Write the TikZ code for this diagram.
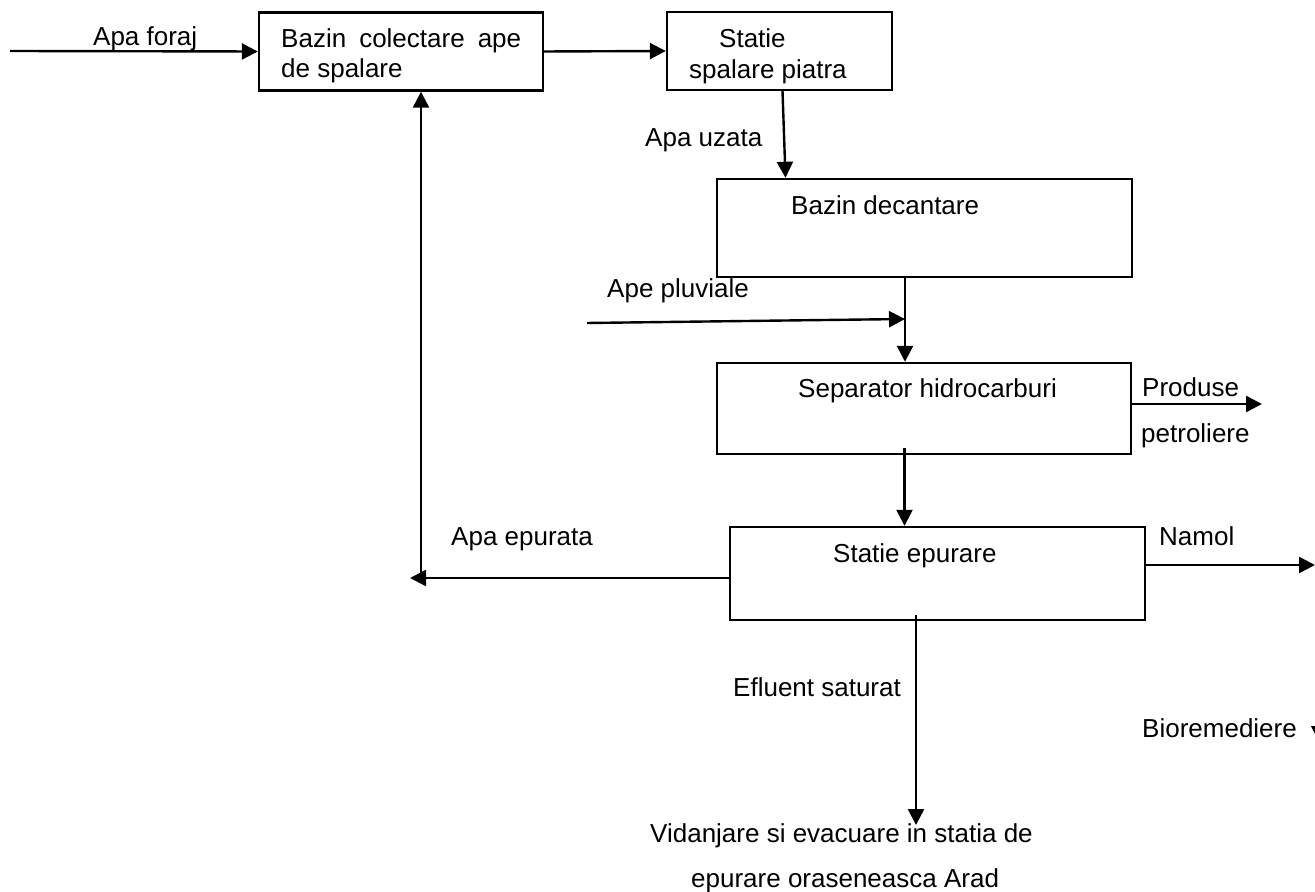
\documentclass[tikz,border=0pt]{standalone}
\usepackage{fontspec}
\setmainfont{Liberation Sans}
\usetikzlibrary{arrows.meta}

\tikzset{
  box/.style={draw, rectangle, inner sep=0pt},
  lbl/.style={anchor=base west, inner sep=0pt, font=\fontsize{13pt}{15pt}\selectfont},
}

\begin{document}
\begin{tikzpicture}[->, >={Triangle[length=8pt,width=8pt]}, line width=1.2pt, x=0.5pt, y=-0.5pt]

    \useasboundingbox (0,0) rectangle (1315,892);

    % Boxes

    \node[box, minimum width=142pt, minimum height=39pt]    (colect)    at (401,51.5)   {}; %
    \node[box, minimum width=112.5pt, minimum height=39pt]  (spalare)   at (779.5,51)   {}; %
    \node[box, minimum width=207.5pt, minimum height=49pt]  (decant)    at (924.5,228)  {}; %
    \node[box, minimum width=207pt, minimum height=45.5pt]  (separator) at (924,408.5)  {}; %
    \node[box, minimum width=207.5pt, minimum height=46.5pt] (epurare)  at (937.5,573.5) {}; %

    % Texts in boxes
    \node[lbl] (colect1) at (280,48) {\makebox[120pt][s]{Bazin colectare ape}};
    \node[lbl] (colect2) at (280,78) {de spalare};
    \node[lbl] (spalare1) at (718,48) {Statie};
    \node[lbl] (spalare2) at (688,79) {spalare piatra};
    \node[lbl] (decant1) at (790,215) {Bazin decantare};
    \node[lbl] (separator1) at (797,398) {Separator hidrocarburi};
    \node[lbl] (epurare1) at (832,562) {Statie epurare};

    % Flow labels
    \node[lbl] (foraj) at (92,46) {Apa foraj};
    \node[lbl] (uzata) at (644,147) {Apa uzata};
    \node[lbl] (pluv) at (606,298) {Ape pluviale};
    \node[lbl] (produse) at (1141,397) {Produse};
    \node[lbl] (petrol) at (1140,443) {petroliere};
    \node[lbl] (epurata) at (450,545) {Apa epurata};
    \node[lbl] (namol) at (1158,545) {Namol};
    \node[lbl] (efluent) at (732,696) {Efluent saturat};
    \node[lbl] (biorem) at (1141,737) {Bioremediere};
    \node[lbl] (vidanj1) at (649,842) {Vidanjare si evacuare in statia de};
    \node[lbl] (vidanj2) at (690,887) {epurare oraseneasca Arad};

    % Free ends
    \coordinate (forajin) at (10,51);
    \coordinate (pluvin) at (587,323);
    \coordinate (pluvjoin) at (905,319);
    \coordinate (produseout) at (1262,404);
    \coordinate (namolout) at (1315,565);
    \coordinate (epurout) at (410,578);
    \coordinate (retbot) at (421,578);
    \coordinate (vidtip) at (916,825);

    % Connectors
    \draw (forajin) -- (colect.west);
    \draw (colect.east) -- (spalare.west);
    \draw ([xshift=1.5pt]spalare.south) -- ([xshift=3pt]spalare.south |- decant.north);
    \draw ([xshift=-9.75pt]decant.south) -- ([xshift=-9.75pt]decant.south |- separator.north);
    \draw (pluvin) -- (pluvjoin);
    \draw ([xshift=-9.75pt,yshift=3.5pt]separator.south) -- ([xshift=-9.75pt]separator.south |- epurare.north);
    \draw ([yshift=2.25pt]separator.east) -- (produseout);
    \draw ([yshift=4.25pt]epurare.east) -- (namolout);
    \draw ([yshift=-2.25pt]epurare.west) -- (epurout);
    \draw (retbot) -- ([xshift=10pt]colect.south);
    \draw ([xshift=-10.75pt,yshift=3pt]epurare.south) -- (vidtip);

    % cut tip at the right edge
    \begin{scope}
        \clip (1290,726) rectangle (1315,740);
        \draw (1315,712) -- (1315,734);
    \end{scope}

\end{tikzpicture}
\end{document}
